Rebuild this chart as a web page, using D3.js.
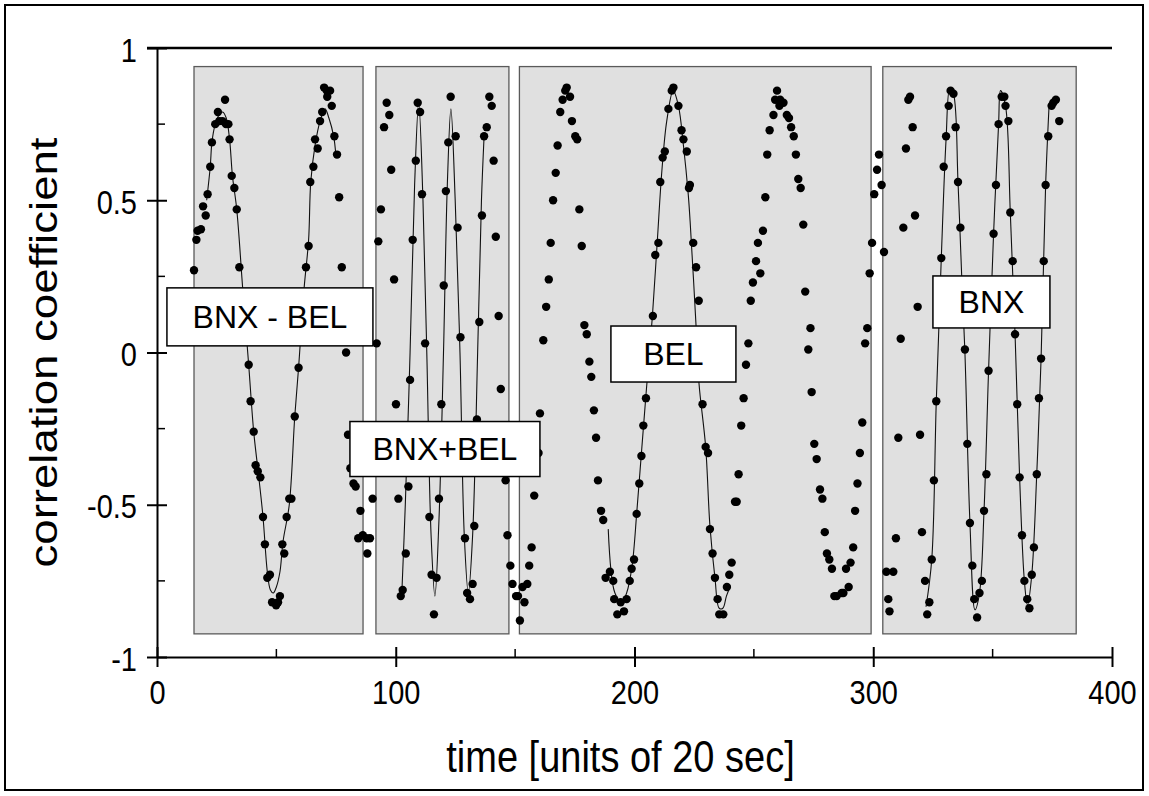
<!DOCTYPE html>
<html>
<head>
<meta charset="utf-8">
<script src="https://cdn.jsdelivr.net/npm/d3@7"></script>
<style>
  body { margin: 0; background: #fff; }
  svg { display: block; font-family: "Liberation Sans", Arial, sans-serif; }
</style>
</head>
<body>
<svg id="chart" width="1149" height="796"></svg>
<script>
// ---- data ----
const xTicks = [0, 100, 200, 300, 400];
const xMinor = [50, 150, 250, 350];
const yTicks = [-1, -0.5, 0, 0.5, 1];
const yMinor = [-0.75, -0.25, 0.25, 0.75];

// shaded time windows [start, end]
const windows = [[15.5, 86.3], [91.7, 147.4], [151.8, 299.1], [304, 385]];
const windowRange = [-0.924, 0.939];
const labelTexts = ['BNX - BEL', 'BNX+BEL', 'BEL', 'BNX'];

// measured correlation coefficients [time, r]
const dotsBnxMinusBel = [
  [15.5,0.27],[16.5,0.37],[17.0,0.40],[18.4,0.405],[19.3,0.48],[20.4,0.45],[21.2,0.52],[22.3,0.61],
  [23.0,0.69],[24.4,0.75],[25.5,0.79],[26.1,0.76],[27.4,0.76],[28.5,0.83],[28.9,0.75],[29.9,0.75],
  [30.4,0.70],[31.3,0.58],[32.4,0.54],[33.4,0.47],[34.5,0.28],[38.4,-0.04],[39.2,-0.16],[40.5,-0.26],
  [41.3,-0.37],[42.2,-0.39],[43.3,-0.41],[44.4,-0.54],[45.2,-0.63],[46.2,-0.74],[47.3,-0.73],[48.2,-0.82],
  [49.9,-0.83],[50.7,-0.82],[51.5,-0.80],[52.5,-0.63],[53.3,-0.66],[54.3,-0.54],[55.4,-0.48],[56.3,-0.48],
  [57.7,-0.21],[59.3,-0.05],[62.4,0.28],[63.5,0.35],[64.2,0.56],[65.5,0.61],[66.2,0.70],[67.3,0.67],
  [68.3,0.76],[69.2,0.79],[70.0,0.87],[71.1,0.86],[71.3,0.84],[72.5,0.86],[73.2,0.81],[74.3,0.71],
  [75.4,0.65],[76.3,0.51],[77.4,0.28],[79.2,0.0],[80.0,-0.27],[81.0,-0.38],[82.3,-0.43],[83.2,-0.44],
  [84.3,-0.61],[85.2,-0.52],[86.2,-0.60],[87.8,-0.61],[88.1,-0.66],[89.2,-0.61],[90.3,-0.48]
];
const dotsBnxPlusBel = [
  [92.0,0.03],[92.7,0.365],[93.8,0.47],[95.1,0.74],[96.2,0.82],[97.3,0.78],[98.1,0.60],[99.3,0.24],
  [100.1,-0.17],[101.1,-0.48],[102.1,-0.80],[102.9,-0.78],[104.2,-0.66],[105.3,-0.44],[106.0,-0.09],
  [107.1,0.37],[108.4,0.63],[109.2,0.82],[110.2,0.79],[111.0,0.52],[112.3,0.03],[114.1,-0.54],
  [115.0,-0.73],[116.0,-0.86],[117.1,-0.74],[118.1,-0.48],[119.1,-0.17],[120.1,0.22],[121.0,0.53],
  [122.0,0.69],[123.0,0.84],[125.1,0.71],[125.9,0.41],[127.1,0.05],[129.0,-0.61],[129.9,-0.79],
  [131.1,-0.81],[132.2,-0.76],[132.9,-0.57],[134.0,-0.22],[135.0,0.10],[136.1,0.45],[137.0,0.71],
  [138.1,0.74],[139.2,0.84],[140.2,0.81],[141.0,0.63],[141.9,0.38],[143.1,0.12],[144.0,-0.12],
  [146.0,-0.42],[146.8,-0.60],[148.0,-0.70],[148.9,-0.76],[150.4,-0.80],[151.2,-0.80]
];
const dotsBel = [
  [152.0,-0.88],[153.1,-0.77],[153.9,-0.82],[155.1,-0.76],[155.9,-0.70],[156.9,-0.64],[158.0,-0.47],
  [160.4,-0.20],[159.8,-0.33],[161.8,0.04],[163.0,0.15],[164.1,0.24],[164.9,0.36],[165.9,0.50],
  [167.0,0.59],[167.8,0.68],[168.9,0.79],[169.9,0.83],[171.0,0.86],[171.6,0.87],[173.0,0.84],
  [173.8,0.76],[175.2,0.71],[176.0,0.70],[176.9,0.47],[177.9,0.35],[179.0,0.09],[180.0,0.06],
  [181.1,-0.03],[181.9,-0.08],[183.0,-0.19],[183.9,-0.28],[184.7,-0.42],[186.0,-0.52],[186.9,-0.55],
  [187.9,-0.74],[189.7,-0.72],[191.1,-0.75],[191.5,-0.81],[192.8,-0.86],[194.2,-0.82],[195.6,-0.85],
  [196.7,-0.81],[198.0,-0.75],[198.8,-0.71],[199.8,-0.68],[200.9,-0.53],[202.0,-0.43],[202.9,-0.34],
  [203.7,-0.24],[204.8,-0.15],[207.7,0.12],[208.7,0.32],[210.0,0.36],[210.8,0.56],[211.8,0.64],
  [212.7,0.66],[214.2,0.80],[215.6,0.86],[216.3,0.87],[218.4,0.81],[219.7,0.73],[220.5,0.70],
  [221.9,0.66],[222.8,0.54],[223.2,0.55],[224.6,0.36],[225.8,0.28],[226.9,0.17],[228.5,-0.17],
  [229.8,-0.31],[230.8,-0.33],[231.6,-0.58],[232.7,-0.66],[233.7,-0.74],[234.8,-0.81],[235.5,-0.86],
  [237.2,-0.86],[238.7,-0.77],[239.7,-0.73],[240.7,-0.69],[242.1,-0.49],[242.8,-0.49],[243.6,-0.40],
  [244.7,-0.24],[245.7,-0.15],[246.7,-0.04],[247.7,0.03],[248.7,0.17],[249.6,0.23],[250.9,0.30],
  [251.7,0.36],[252.7,0.26],[253.8,0.40],[254.8,0.51],[255.6,0.65],[256.6,0.73],[258.2,0.78],
  [258.9,0.83],[259.7,0.86],[260.7,0.81],[261.0,0.83],[262.4,0.82],[263.8,0.78],[264.7,0.77],
  [265.6,0.74],[266.7,0.71],[267.6,0.65],[268.6,0.57],[269.6,0.54],[270.7,0.42],[271.5,0.20],
  [272.8,0.01],[273.7,0.08],[274.2,-0.13],[275.3,-0.30],[276.3,-0.35],[277.7,-0.45],[278.7,-0.48],
  [279.7,-0.59],[280.6,-0.66],[281.6,-0.68],[282.7,-0.71],[283.7,-0.80],[284.7,-0.80],[286.8,-0.79],
  [287.5,-0.79],[288.6,-0.71],[289.7,-0.77],[290.5,-0.69],[291.6,-0.64],[292.4,-0.52],[293.4,-0.43],
  [294.4,-0.33],[295.4,-0.23],[296.6,0.03],[297.5,0.08],[298.5,0.26],[299.5,0.36],[300.4,0.52],
  [301.6,0.60],[302.4,0.65],[303.5,0.55],[304.5,0.33]
];
const dotsBnx = [
  [305.5,-0.72],[306.3,-0.81],[306.8,-0.85],[308.4,-0.72],[309.5,-0.61],[310.5,-0.28],[311.5,0.045],
  [312.6,0.41],[313.7,0.67],[314.7,0.83],[315.4,0.84],[316.5,0.74],[317.5,0.45],[318.6,0.15],
  [319.6,-0.27],[320.4,-0.59],[321.7,-0.75],[322.6,-0.86],[323.5,-0.82],[324.5,-0.68],[325.4,-0.42],
  [326.4,-0.16],[328.5,0.31],[329.5,0.61],[330.5,0.71],[331.6,0.81],[332.4,0.86],[333.6,0.85],
  [334.5,0.74],[335.5,0.56],[336.5,0.41],[338.4,0.01],[339.4,-0.30],[340.5,-0.56],[341.5,-0.70],
  [342.3,-0.81],[343.5,-0.87],[344.5,-0.79],[345.5,-0.75],[346.4,-0.52],[347.4,-0.40],[348.3,-0.06],
  [350.4,0.39],[351.4,0.55],[352.5,0.75],[353.8,0.84],[354.9,0.84],[355.4,0.81],[356.6,0.76],
  [357.4,0.46],[358.4,0.30],[359.4,0.06],[360.3,-0.17],[361.3,-0.41],[362.3,-0.60],[363.3,-0.75],
  [364.5,-0.81],[365.4,-0.84],[366.4,-0.73],[367.3,-0.64],[368.5,-0.40],[369.4,-0.15],[370.3,-0.02],
  [371.4,0.30],[372.2,0.55],[373.3,0.71],[374.7,0.81],[375.4,0.82],[376.5,0.83],[377.9,0.76]
];

// fitted curves
const fitBnxMinusBel = [
  [20.8,0.50],[22.3,0.61],[23.0,0.69],[24.4,0.75],[26.0,0.78],[27.5,0.79],[29.0,0.77],[30.4,0.70],
  [31.6,0.58],[33.4,0.47],[35.9,0.21],[38.4,-0.04],[40.5,-0.26],[42.5,-0.40],[44.4,-0.54],[46.2,-0.72],
  [47.5,-0.78],[48.7,-0.79],[50.0,-0.77],[51.5,-0.72],[52.8,-0.62],[55.4,-0.50],[57.7,-0.21],[59.3,-0.05],
  [61.6,0.21],[63.5,0.37],[64.4,0.56],[66.2,0.68],[68.3,0.76],[70.4,0.80],[72.0,0.77],[74.0,0.71],[74.9,0.65]
];
const fitBnxPlusBel = [
  [102.5,-0.80],[104.0,-0.50],[106.0,0.0],[107.9,0.55],[109.6,0.82],[111.4,0.50],[113.0,0.0],
  [114.8,-0.60],[116.4,-0.80],[118.1,-0.55],[120.0,0.0],[121.6,0.55],[123.1,0.80],[124.9,0.50],
  [126.9,0.0],[128.7,-0.60],[130.4,-0.79],[132.2,-0.60],[134.3,0.0],[135.9,0.50],[137.0,0.71]
];
const fitBel = [
  [189.0,-0.58],[191.8,-0.79],[194.6,-0.82],[196.7,-0.79],[199.0,-0.70],[201.0,-0.52],[203.0,-0.32],
  [205.0,-0.12],[207.5,0.12],[209.5,0.36],[211.5,0.60],[213.5,0.76],[216.2,0.86],[218.4,0.81],
  [220.5,0.68],[222.5,0.52],[223.3,0.43],[225.8,0.085],[227.0,-0.10],[229.8,-0.31],[231.6,-0.57],
  [233.7,-0.74],[235.5,-0.84],[237.0,-0.84],[238.5,-0.80],[240.0,-0.77]
];
const fitBnx = [
  [322.1,-0.835],[324.5,-0.68],[326.4,-0.16],[328.5,0.31],[330.5,0.70],[332.1,0.868],[333.6,0.85],
  [335.5,0.56],[337.0,0.26],[338.4,0.0],[340.5,-0.56],[342.6,-0.845],[344.5,-0.79],[346.4,-0.52],
  [348.3,-0.06],[350.4,0.39],[352.5,0.75],[353.3,0.86],[355.4,0.81],[357.4,0.46],[359.4,0.06],
  [361.3,-0.41],[363.3,-0.75],[364.6,-0.83],[366.4,-0.73],[368.5,-0.395],[370.3,-0.02],[372.2,0.55],
  [373.7,0.82]
];

// ---- layout ----
const W = 1149, H = 796;
const svg = d3.select('#chart');
const x = d3.scaleLinear().domain([0, 400]).range([157, 1112]);
const y = d3.scaleLinear().domain([-1, 1]).range([657, 48]);

// label boxes: centre in data space, size in px
const labelBoxes = [
  { t: 47.3, r: 0.117, w: 206, h: 58 },
  { t: 120.6, r: -0.317, w: 190, h: 55 },
  { t: 216.3, r: -0.005, w: 125, h: 56 },
  { t: 349.5, r: 0.166, w: 117, h: 52 }
];

// outer frame
svg.append('rect')
  .attr('x', 5).attr('y', 5)
  .attr('width', W - 11).attr('height', H - 11)
  .attr('fill', 'none')
  .attr('stroke', '#000')
  .attr('stroke-width', 2);

// shaded windows
svg.append('g').selectAll('rect')
  .data(windows)
  .join('rect')
  .attr('x', d => x(d[0]))
  .attr('y', y(windowRange[1]))
  .attr('width', d => x(d[1]) - x(d[0]))
  .attr('height', y(windowRange[0]) - y(windowRange[1]))
  .attr('fill', '#e0e0e0')
  .attr('stroke', '#5a5a5a')
  .attr('stroke-width', 1.3);

// fitted curves
const line = d3.line()
  .x(d => x(d[0]))
  .y(d => y(d[1]))
  .curve(d3.curveCatmullRom.alpha(0.5));

svg.append('g').selectAll('path')
  .data([fitBnxMinusBel, fitBnxPlusBel, fitBel, fitBnx])
  .join('path')
  .attr('d', line)
  .attr('fill', 'none')
  .attr('stroke', '#111')
  .attr('stroke-width', 1.1);

// dots
const allDots = [].concat(dotsBnxMinusBel, dotsBnxPlusBel, dotsBel, dotsBnx);
svg.append('g').selectAll('circle')
  .data(allDots)
  .join('circle')
  .attr('cx', d => x(d[0]))
  .attr('cy', d => y(d[1]))
  .attr('r', 4.2)
  .attr('fill', '#000');

// label boxes on top of the dots
const lab = svg.append('g').selectAll('g')
  .data(labelBoxes)
  .join('g')
  .attr('transform', d => `translate(${x(d.t)},${y(d.r)})`);

lab.append('rect')
  .attr('x', d => -d.w / 2)
  .attr('y', d => -d.h / 2)
  .attr('width', d => d.w)
  .attr('height', d => d.h)
  .attr('fill', '#fff')
  .attr('stroke', '#000')
  .attr('stroke-width', 1.5);

lab.append('text')
  .attr('text-anchor', 'middle')
  .attr('y', 11)
  .attr('font-size', 32)
  .text((d, i) => labelTexts[i]);

// axes
const gx = svg.append('g')
  .attr('transform', `translate(0,${y(-1)})`)
  .call(d3.axisBottom(x).tickValues(xTicks).tickFormat(d => d).tickSizeOuter(0));
gx.attr('font-size', null).attr('font-family', null);
gx.select('.domain').attr('stroke-width', 2);
gx.selectAll('.tick line').attr('y1', -10).attr('y2', 10).attr('stroke-width', 2);
gx.selectAll('.tick text')
  .attr('y', null).attr('dy', null)
  .attr('transform', 'translate(0,47) scale(1,1.15)')
  .attr('font-size', 29)
  .attr('fill', '#000');

const gy = svg.append('g')
  .attr('transform', `translate(${x(0)},0)`)
  .call(d3.axisLeft(y).tickValues(yTicks).tickFormat(d => d).tickSizeOuter(0));
gy.attr('font-size', null).attr('font-family', null);
gy.select('.domain').attr('stroke-width', 2);
gy.selectAll('.tick line').attr('x1', -10).attr('x2', 10).attr('stroke-width', 2);
gy.selectAll('.tick text')
  .attr('x', null).attr('dy', null)
  .attr('transform', 'translate(-20,13) scale(1,1.15)')
  .attr('font-size', 29)
  .attr('fill', '#000');

// minor ticks point inwards
svg.append('g').selectAll('line')
  .data(xMinor)
  .join('line')
  .attr('x1', d => x(d)).attr('x2', d => x(d))
  .attr('y1', y(-1)).attr('y2', y(-1) - 8)
  .attr('stroke', '#000').attr('stroke-width', 1.5);

svg.append('g').selectAll('line')
  .data(yMinor)
  .join('line')
  .attr('x1', x(0)).attr('x2', x(0) + 8)
  .attr('y1', d => y(d)).attr('y2', d => y(d))
  .attr('stroke', '#000').attr('stroke-width', 1.5);

// top border line
svg.append('line')
  .attr('x1', x(0) - 10).attr('x2', x(400))
  .attr('y1', y(1)).attr('y2', y(1))
  .attr('stroke', '#000')
  .attr('stroke-width', 2.5);

// axis titles
svg.append('text')
  .attr('transform', `translate(${(x(0) + x(400)) / 2 - 14},772) scale(1,1.15)`)
  .attr('text-anchor', 'middle')
  .attr('font-size', 38)
  .text('time [units of 20 sec]');

svg.append('text')
  .attr('transform', `translate(57,${y(0)}) rotate(-90) scale(1.2,1)`)
  .attr('text-anchor', 'middle')
  .attr('font-size', 38)
  .text('correlation coefficient');
</script>
</body>
</html>
